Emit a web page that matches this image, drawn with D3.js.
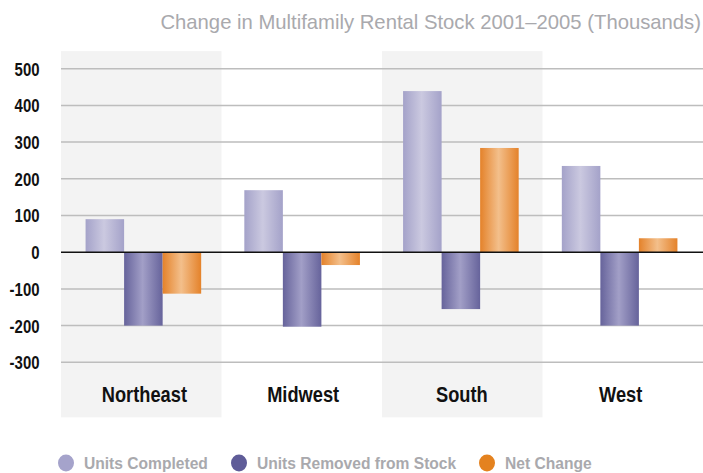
<!DOCTYPE html>
<html lang="en">
<head>
<meta charset="UTF-8">
<title>Multifamily Rental Stock</title>
<script src="https://cdn.jsdelivr.net/npm/d3@7"></script>
<style>
  body { margin: 0; background: #fff; }
  svg { display: block; }
  text { font-family: "Liberation Sans", Arial, Helvetica, sans-serif; }
</style>
</head>
<body>
<script>
const regions = ["Northeast", "Midwest", "South", "West"];
const seriesNames = ["Units Completed", "Units Removed from Stock", "Net Change"];
const completed = [90, 169, 439, 235];
const removed = [-200, -203, -155, -200];
const netChange = [-113, -35, 284, 38];
const yTicks = [-300, -200, -100, 0, 100, 200, 300, 400, 500];
const title = "Change in Multifamily Rental Stock 2001\u20132005 (Thousands)";

const width = 703, height = 473;
const svg = d3.select("body").append("svg")
    .attr("width", width).attr("height", height);

// no condensed face installed, so squeeze a normal one horizontally
const boldSqueeze = 0.83;

// gradients: darker edges, lighter middle
const grads = [
    { id: "gComp", edge: "#a4a2c9", mid: "#cbc9e0" },
    { id: "gRem", edge: "#66639b", mid: "#a29fc7" },
    { id: "gNet", edge: "#e4822a", mid: "#f3bf8b" }
];
const defs = svg.append("defs");
grads.forEach(g => {
    const lg = defs.append("linearGradient").attr("id", g.id)
        .attr("x1", "0%").attr("x2", "100%").attr("y1", "0%").attr("y2", "0%");
    lg.append("stop").attr("offset", "0%").attr("stop-color", g.edge);
    lg.append("stop").attr("offset", "48%").attr("stop-color", g.mid);
    lg.append("stop").attr("offset", "100%").attr("stop-color", g.edge);
});
const legendColors = ["#a5a3cb", "#5f5c98", "#e4821f"];

const data = regions.map((r, i) => ({
    region: r,
    values: [completed[i], removed[i], netChange[i]]
}));

// background stripes span the plot, bar groups sit on a slightly tighter step
const xBg = d3.scaleBand().domain(regions).range([61, 703]).padding(0);
const x0 = d3.scaleBand().domain(regions).range([64, 699]).padding(0);
const x1 = d3.scaleBand().domain(d3.range(3))
    .range([0, x0.bandwidth()]).paddingInner(0).paddingOuter(0.56);
const y = d3.scaleLinear().domain([-300, 500]).range([362.3, 68.7]);

// shaded bands for alternating regions
svg.append("g").selectAll("rect")
    .data(regions.filter((d, i) => i % 2 === 0))
    .join("rect")
    .attr("x", d => xBg(d))
    .attr("width", xBg.bandwidth())
    .attr("y", y(548))
    .attr("height", y(-450) - y(548))
    .attr("fill", "#f3f3f3");

// grid lines
svg.append("g").selectAll("line")
    .data(yTicks.filter(d => d !== 0))
    .join("line")
    .attr("x1", 61).attr("x2", 703)
    .attr("y1", d => y(d)).attr("y2", d => y(d))
    .attr("stroke", "#bdbdbd").attr("stroke-width", 1.5);

// y axis labels (plain hyphen for negatives, as in the source)
const yAxis = svg.append("g")
    .attr("transform", "translate(39.5,0)")
    .call(d3.axisLeft(y).tickValues(yTicks).tickSize(0).tickPadding(0)
        .tickFormat(d => String(d)));
yAxis.select(".domain").remove();
yAxis.selectAll("text")
    .attr("font-family", null)
    .attr("font-size", 18).attr("font-weight", "bold").attr("fill", "#111")
    .attr("dy", "0.36em")
    .attr("transform", `scale(${boldSqueeze},1)`);

// bars
const groups = svg.append("g").selectAll("g")
    .data(data)
    .join("g")
    .attr("transform", d => `translate(${x0(d.region)},0)`);

groups.selectAll("rect")
    .data(d => d.values.map((v, k) => ({ k, v })))
    .join("rect")
    .attr("x", d => x1(d.k))
    .attr("width", x1.bandwidth())
    .attr("y", d => y(Math.max(0, d.v)))
    .attr("height", d => Math.abs(y(d.v) - y(0)))
    .attr("fill", d => `url(#${grads[d.k].id})`);

// zero line
svg.append("line")
    .attr("x1", 61).attr("x2", 703)
    .attr("y1", y(0)).attr("y2", y(0))
    .attr("stroke", "#111").attr("stroke-width", 1.5);

// category labels
svg.append("g").selectAll("text")
    .data(regions)
    .join("text")
    .attr("transform", d => `translate(${x0(d) + x0.bandwidth() / 2 + 1},401.5) scale(${boldSqueeze},1)`)
    .attr("text-anchor", "middle")
    .attr("font-size", 22).attr("font-weight", "bold").attr("fill", "#111")
    .text(d => d);

// title, squeezed to the width it has in the reference
const titleText = svg.append("text")
    .attr("text-anchor", "end")
    .attr("font-size", 21).attr("fill", "#a9a9ad")
    .text(title);
const titleSqueeze = 541 / titleText.node().getComputedTextLength();
titleText.attr("transform", `translate(701,28.5) scale(${titleSqueeze},1)`);

// legend
const legendX = [66, 239, 487];
const legend = svg.append("g").selectAll("g")
    .data(seriesNames)
    .join("g")
    .attr("transform", (d, i) => `translate(${legendX[i]},463)`);
legend.append("ellipse")
    .attr("rx", 8).attr("ry", 8.5)
    .attr("fill", (d, i) => legendColors[i]);
const legendText = legend.append("text")
    .attr("font-size", 17).attr("font-weight", "bold").attr("fill", "#a9a9ad")
    .text(d => d);
const legendSqueeze = 124 / legendText.node().getComputedTextLength();
legendText.attr("transform", `translate(18,6) scale(${legendSqueeze},1)`);
</script>
</body>
</html>
